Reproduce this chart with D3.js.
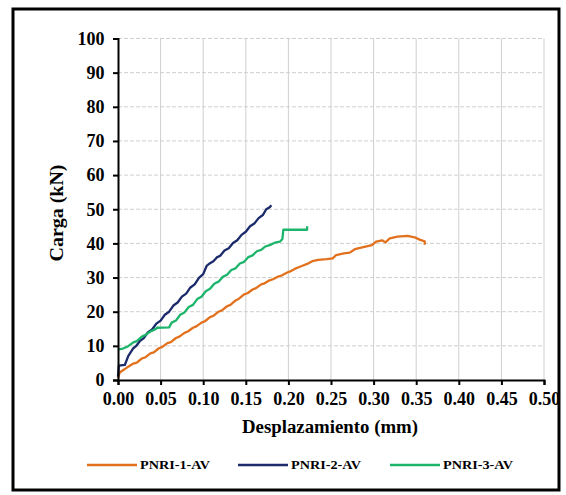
<!DOCTYPE html>
<html><head><meta charset="utf-8">
<script src="https://cdn.jsdelivr.net/npm/d3@7"></script>
<style>body{margin:0;background:#fff}svg{display:block}</style>
</head><body><svg id="c" width="566" height="495"></svg>
<script>
const seriesNames = ["PNRI-1-AV","PNRI-2-AV","PNRI-3-AV"];
const seriesColors = ["#E2711D","#1B2A6B","#1DB56B"];
const xTicks = [0,0.05,0.1,0.15,0.2,0.25,0.3,0.35,0.4,0.45,0.5];
const yTicks = [0,10,20,30,40,50,60,70,80,90,100];
const pnri1 = [[0,0.5],[0.002,2.2],[0.008,3.2],[0.012,3.9],[0.018,4.8],[0.022,5.1],[0.028,6.3],[0.032,6.6],[0.038,7.8],[0.042,8.1],[0.048,9.3],[0.052,9.7],[0.058,10.8],[0.062,11.1],[0.068,12.3],[0.072,12.7],[0.078,13.8],[0.082,14.2],[0.088,15.3],[0.092,15.7],[0.098,16.8],[0.102,17.2],[0.108,18.4],[0.112,18.8],[0.118,20],[0.122,20.4],[0.128,21.6],[0.132,22],[0.138,23.3],[0.142,23.8],[0.148,25.1],[0.152,25.4],[0.158,26.5],[0.162,26.9],[0.168,28],[0.172,28.3],[0.178,29.2],[0.182,29.5],[0.188,30.3],[0.192,30.6],[0.198,31.4],[0.202,31.8],[0.208,32.6],[0.212,33],[0.218,33.6],[0.222,34],[0.228,34.8],[0.235,35.2],[0.245,35.4],[0.252,35.6],[0.256,36.6],[0.265,37.1],[0.272,37.3],[0.278,38.3],[0.288,38.9],[0.298,39.5],[0.303,40.5],[0.31,40.9],[0.314,40.3],[0.319,41.5],[0.328,42],[0.34,42.2],[0.348,41.8],[0.354,41.1],[0.36,40.6],[0.36,39.6]];
const pnri2 = [[0,1],[0.001,4.2],[0.008,4.4],[0.012,7],[0.018,9.3],[0.021,9.9],[0.026,11.5],[0.03,12.2],[0.035,13.9],[0.04,14.8],[0.045,16.5],[0.05,17.4],[0.055,19.1],[0.06,20],[0.065,21.8],[0.07,22.7],[0.075,24.4],[0.08,25.3],[0.085,27.1],[0.09,28],[0.095,29.9],[0.1,31],[0.104,33.4],[0.108,34.2],[0.112,34.8],[0.116,35.9],[0.12,36.4],[0.125,37.9],[0.13,38.6],[0.135,40.1],[0.14,40.9],[0.145,42.5],[0.15,43.4],[0.155,45],[0.16,45.8],[0.165,47.4],[0.17,48.3],[0.174,50],[0.178,50.6],[0.18,51.2]];
const pnri3 = [[0,9],[0.006,9.2],[0.012,9.9],[0.018,11],[0.022,11.4],[0.028,12.7],[0.032,13.2],[0.038,14.2],[0.044,14.9],[0.046,15.3],[0.06,15.4],[0.063,16.8],[0.068,17.4],[0.073,19.1],[0.078,19.8],[0.083,21.4],[0.088,22],[0.093,23.7],[0.098,24.4],[0.103,26],[0.108,26.7],[0.113,28.2],[0.118,28.8],[0.123,30.2],[0.128,30.8],[0.133,32.2],[0.138,32.7],[0.143,34.1],[0.148,34.6],[0.153,36],[0.158,36.5],[0.163,37.7],[0.168,38.1],[0.173,39.1],[0.178,39.5],[0.184,40.2],[0.19,40.5],[0.193,41.3],[0.194,44],[0.21,44],[0.222,44],[0.222,45]];
const seriesData = [pnri1,pnri2,pnri3];

const svg = d3.select("#c");
const m = {l:118, r:544, t:38.5, b:380};
const x = d3.scaleLinear().domain([0,0.5]).range([m.l,m.r]);
const y = d3.scaleLinear().domain([0,100]).range([m.b,m.t]);
const serif = "Liberation Serif";

// outer frame
svg.append("rect").attr("x",13).attr("y",9).attr("width",546).attr("height",481)
  .attr("fill","#fff").attr("stroke","#000").attr("stroke-width",3);

// grid
svg.append("g").selectAll("line").data(xTicks.slice(1)).join("line")
  .attr("x1",d=>x(d)).attr("x2",d=>x(d)).attr("y1",m.t).attr("y2",m.b)
  .attr("stroke","#cfcfcf").attr("stroke-width",1);
svg.append("g").selectAll("line").data(yTicks.slice(1)).join("line")
  .attr("x1",m.l).attr("x2",m.r).attr("y1",d=>y(d)).attr("y2",d=>y(d))
  .attr("stroke","#cfcfcf").attr("stroke-width",1).attr("stroke-dasharray","4,2");

// lines
const line = d3.line().x(d=>x(d[0])).y(d=>y(d[1]));
seriesData.forEach((s,i)=>{
  svg.append("path").datum(s).attr("d",line).attr("fill","none")
    .attr("stroke",seriesColors[i]).attr("stroke-width",2.3).attr("stroke-linejoin","round");
});

// axes
const xa = svg.append("g").attr("transform",`translate(0,${m.b})`)
  .call(d3.axisBottom(x).tickValues(xTicks).tickFormat(d3.format(".2f")).tickSizeOuter(0).tickSize(5));
const ya = svg.append("g").attr("transform",`translate(${m.l},0)`)
  .call(d3.axisLeft(y).tickValues(yTicks).tickSizeOuter(0).tickSize(5));
[xa,ya].forEach(a=>{
  a.attr("font-family",null);
  a.select(".domain").attr("stroke","#000").attr("stroke-width",2);
  a.selectAll(".tick line").attr("stroke","#000").attr("stroke-width",2);
  a.selectAll("text").style("font-family",serif).style("font-weight","bold")
    .style("font-size","18px").attr("fill","#000");
});
xa.selectAll("text").attr("dy","0.95em");
ya.selectAll("text").attr("dx","-0.3em");

// titles
svg.append("text").attr("x",330).attr("y",433).attr("text-anchor","middle")
  .style("font-family",serif).style("font-weight","bold").style("font-size","18px")
  .attr("textLength",176).attr("lengthAdjust","spacingAndGlyphs")
  .text("Desplazamiento (mm)");
svg.append("text").attr("transform","translate(63,213) rotate(-90)").attr("text-anchor","middle")
  .style("font-family",serif).style("font-weight","bold").style("font-size","18px")
  .attr("textLength",97).attr("lengthAdjust","spacingAndGlyphs")
  .text("Carga (kN)");

// legend
const lg = svg.append("g");
const lx = [87,238,390];
seriesNames.forEach((n,i)=>{
  lg.append("line").attr("x1",lx[i]).attr("x2",lx[i]+50).attr("y1",465).attr("y2",465)
    .attr("stroke",seriesColors[i]).attr("stroke-width",2.3);
  lg.append("text").attr("x",lx[i]+53).attr("y",469)
    .style("font-family",serif).style("font-weight","bold").style("font-size","12px")
    .attr("textLength",70).attr("lengthAdjust","spacingAndGlyphs").text(n);
});
</script></body></html>
